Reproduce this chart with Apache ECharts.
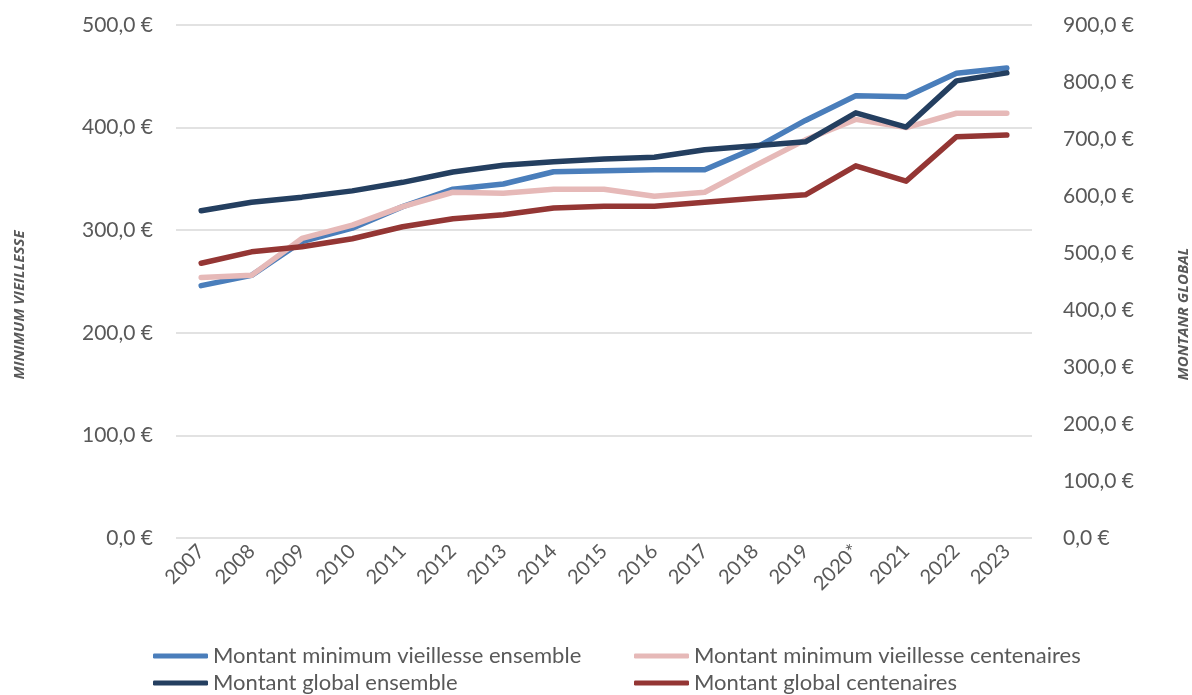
<!DOCTYPE html>
<html>
<head>
<meta charset="utf-8">
<script src="https://cdn.jsdelivr.net/npm/echarts@6/dist/echarts.min.js"></script>
<style>
  html, body { margin: 0; padding: 0; background: #fff; }
  #chart { width: 1192px; height: 695px; }
</style>
</head>
<body>
<div id="chart"></div>
<script>
const years = ['2007', '2008', '2009', '2010', '2011', '2012', '2013', '2014', '2015',
    '2016', '2017', '2018', '2019', '2020*', '2021', '2022', '2023'];

// left axis (minimum vieillesse)
const minEnsemble = [246, 256, 289, 302, 323, 340, 345, 357, 358, 359, 359, 380, 407, 431, 430, 453, 458];
const minCentenaires = [254, 256, 292, 305, 323, 337, 336, 340, 340, 333, 337, 363, 388, 408, 400, 414, 414];

// right axis (montant global)
const globalEnsemble = [574, 589, 598, 609, 624, 642, 654, 660, 665, 668, 681, 688, 695, 746, 721, 802, 816];
const globalCentenaires = [482, 502, 511, 525, 546, 560, 567, 579, 582, 582, 589, 596, 602, 653, 626, 704, 707];

const leftTicks = { min: 0, max: 500, interval: 100 };
const rightTicks = { min: 0, max: 900, interval: 100 };

const FONT = 'Lato';
const GREY = '#595959';

function euro(v) {
    return v.toFixed(1).replace('.', ',') + ' €';
}

function lineSeries(name, data, color, axis) {
    return {
        name: name,
        type: 'line',
        yAxisIndex: axis,
        data: data,
        symbol: 'none',
        color: color,
        lineStyle: { width: 5.5, color: color, cap: 'round', join: 'round' },
        emphasis: { disabled: true }
    };
}

function legendItem(name, left, top) {
    return {
        data: [name],
        left: left,
        top: top,
        padding: 0,
        icon: 'roundRect',
        itemWidth: 55,
        itemHeight: 5,
        textStyle: { fontFamily: FONT, fontSize: 22, color: GREY }
    };
}

function axisName(text, x, y) {
    return {
        type: 'text', rotation: Math.PI / 2, x: x, y: y,
        style: { text: text, fontFamily: 'Open Sans', fontSize: 15, fontWeight: 'bold',
            fontStyle: 'italic', fill: GREY, align: 'center', verticalAlign: 'middle' }
    };
}

const chart = echarts.init(document.getElementById('chart'));

const option = {
    animation: false,
    backgroundColor: '#fff',
    grid: { left: 176, right: 160, top: 25, bottom: 157 },
    legend: [
        legendItem('Montant minimum vieillesse ensemble', 153, 645),
        legendItem('Montant minimum vieillesse centenaires', 634, 645),
        legendItem('Montant global ensemble', 153, 672),
        legendItem('Montant global centenaires', 634, 672)
    ],
    graphic: [
        axisName('MINIMUM VIEILLESSE', 20, 305),
        axisName('MONTANR GLOBAL', 1184, 314)
    ],
    xAxis: {
        type: 'category',
        data: years,
        boundaryGap: true,
        axisLine: { show: false },
        axisTick: { show: false },
        axisLabel: { rotate: 45, margin: 10, fontFamily: FONT, fontSize: 20, color: GREY, interval: 0 }
    },
    yAxis: [
        {
            type: 'value',
            min: leftTicks.min, max: leftTicks.max, interval: leftTicks.interval,
            axisLine: { show: false },
            axisTick: { show: false },
            splitLine: { lineStyle: { color: '#d9d9d9', width: 1.5 } },
            axisLabel: { margin: 23, fontFamily: FONT, fontSize: 21, color: GREY, formatter: euro }
        },
        {
            type: 'value',
            min: rightTicks.min, max: rightTicks.max, interval: rightTicks.interval,
            axisLine: { show: false },
            axisTick: { show: false },
            splitLine: { show: false },
            axisLabel: { margin: 31, fontFamily: FONT, fontSize: 21, color: GREY, formatter: euro }
        }
    ],
    series: [
        lineSeries('Montant minimum vieillesse ensemble', minEnsemble, '#4a7ebb', 0),
        lineSeries('Montant minimum vieillesse centenaires', minCentenaires, '#e6b9b8', 0),
        lineSeries('Montant global ensemble', globalEnsemble, '#243f60', 1),
        lineSeries('Montant global centenaires', globalCentenaires, '#943634', 1)
    ]
};

chart.setOption(option);
</script>
</body>
</html>
